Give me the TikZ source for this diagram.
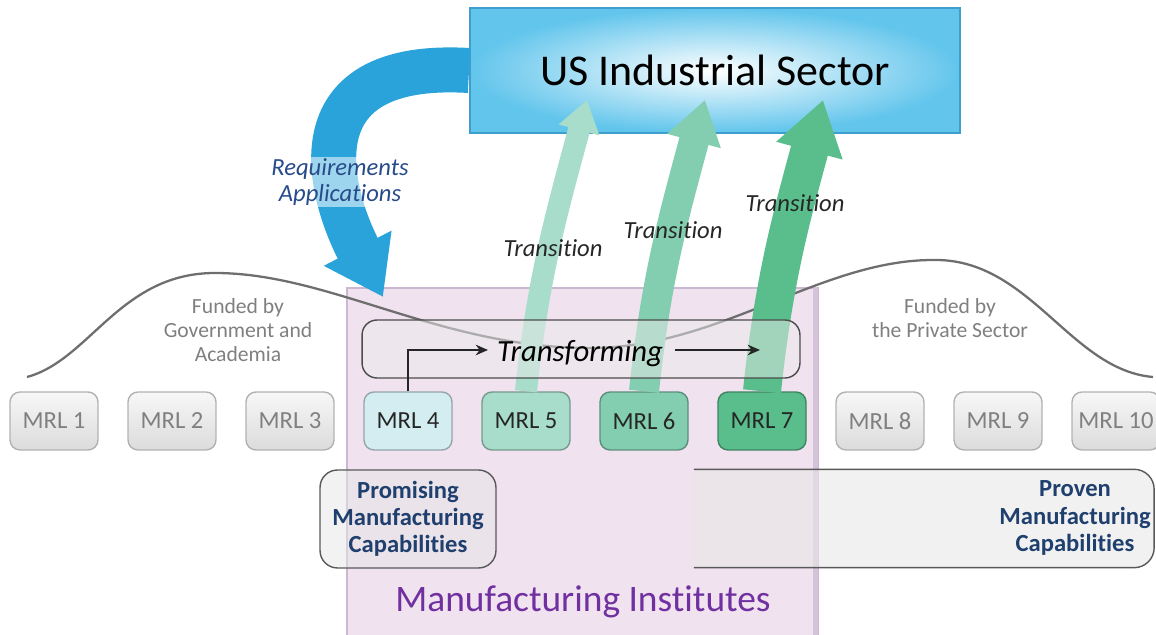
\documentclass[tikz,border=0pt]{standalone}
\usepackage{fontspec}
\setmainfont[Ligatures=NoCommon]{Carlito}
\usetikzlibrary{calc,arrows.meta}
\definecolor{reqblue}{HTML}{29A3DA}
\definecolor{reqtext}{HTML}{284B8A}
\definecolor{usblue}{HTML}{62C5EC}
\definecolor{usedge}{HTML}{3E9FCF}
\definecolor{instpink}{HTML}{F0E2EF}
\definecolor{instedge}{HTML}{CDB8D3}
\definecolor{instpurple}{HTML}{7030A0}
\definecolor{capblue}{HTML}{1F3F6E}
\definecolor{mrlfour}{HTML}{D3EDF1}
\definecolor{mrlfive}{HTML}{A8DCCB}
\definecolor{mrlsix}{HTML}{83CDB0}
\definecolor{mrlseven}{HTML}{5ABD8C}
\definecolor{curvegray}{HTML}{6E6E6E}
\definecolor{fundgray}{HTML}{7F7F7F}

\begin{document}
\begin{tikzpicture}[x=0.02cm,y=0.02cm,thick,
  mrl/.style={rounded corners=0.2cm,minimum width=1.76cm,minimum height=1.16cm,inner sep=0pt,font=\fontsize{14}{16}\selectfont},
  mrlgray/.style={mrl,draw=black!30,top color=black!3,bottom color=black!14,text=black!50},
  mrlcol/.style={mrl,fill=#1,draw=#1!70!black,text=black!85},
  flow/.style={-{Stealth[length=7pt,width=6pt]},line width=1.1pt,black!85},
  capbox/.style={draw=black!65,fill=black!10,fill opacity=0.5,text opacity=1,text=capblue,align=center,font=\fontsize{14}{15.5}\selectfont\bfseries},
  fund/.style={text=fundgray,align=center,font=\fontsize{12.3}{13.5}\selectfont},
  translabel/.style={text=black!85,font=\fontsize{14}{16}\selectfont\itshape}]
\useasboundingbox (0,0) rectangle (1156,635);

\node[draw=instedge,line width=1pt,fill=instpink,minimum width=9.42cm,minimum height=7.04cm] (inst) at (582.5,171) {};
\draw[instedge!85,line width=2.5pt] ([xshift=-2pt]inst.north east) -- ([xshift=-2pt]inst.south east);

\draw[curvegray,line width=1.3pt] (27,258) .. controls (90,275) and (120,362) .. (215,362)
  .. controls (330,362) and (440,287) .. (590,287)
  .. controls (720,287) and (820,375) .. (933,375)
  .. controls (1030,377) and (1070,265) .. (1153,258);

\node[draw=usedge,line width=1.2pt,inner color=white,outer color=usblue,minimum width=9.8cm,minimum height=2.5cm,font=\fontsize{25}{30}\selectfont] (us) at (715,564.5) {US Industrial Sector};

\coordinate (req) at (383,338);
\draw[reqblue,line width=0.9cm,-{Triangle[length=1.1cm,width=1.45cm]}] (us.west) .. controls (290,575) and (330,440) .. (req);

\foreach \i in {1,2,3,8,9,10}
  \node[mrlgray] (m\i) at ({54+118*(\i-1)},214) {MRL \i};
\foreach \i/\c in {4/mrlfour,5/mrlfive,6/mrlsix,7/mrlseven}
  \node[mrlcol=\c] (m\i) at ({54+118*(\i-1)},214) {MRL \i};

\coordinate (t5) at (587,535);
\coordinate (t6) at (705,535);
\coordinate (t7) at (823,535);
\foreach \i/\c/\w/\hl/\hw in {5/mrlfive/0.44cm/0.62cm/0.8cm,6/mrlsix/0.6cm/0.85cm/1.05cm,7/mrlseven/0.76cm/1.05cm/1.3cm}
  \draw[\c,line width=\w,-{Triangle[length=\hl,width=\hw]}] (m\i.north) to[out=84,in=-105] (t\i);

\node[draw=black!70,fill=black!8,fill opacity=0.5,rounded corners=0.3cm,minimum width=8.76cm,minimum height=1.16cm] (trbox) at (581,286) {};
\node[anchor=base,font=\fontsize{17.5}{20}\selectfont\itshape] (trtext) at (580,273) {Transforming};
\coordinate (trin) at (488,285);
\coordinate (trend) at (760,285);
\draw[flow] (m4.north) |- (trin);
\draw[flow] ([xshift=3pt]trtext.east|-trend) -- (trend);

\node[translabel] (tl5) at (553,387) {Transition};
\node[translabel] (tl6) at (673,405) {Transition};
\node[translabel] (tl7) at (795,432) {Transition};

\node[text=reqtext,align=center,fill=white,fill opacity=0.55,text opacity=1,inner sep=1pt,font=\fontsize{14}{15}\selectfont\itshape] (reqtxt) at (340,453) {Requirements\\Applications};

\node[fund] (fundgov) at (238,305) {Funded by\\Government and\\Academia};
\node[fund] (fundpriv) at (950,317) {Funded by\\the Private Sector};

\node[capbox,rounded corners=0.35cm,minimum width=3.52cm,minimum height=1.96cm] (prom) at (408,116) {Promising\\Manufacturing\\Capabilities};
\node[minimum width=9.18cm,minimum height=1.94cm] (prov) at (924,116.5) {};
\filldraw[draw=black!65,fill=black!9,fill opacity=0.6,rounded corners=0.4cm] (prov.north west) -- (prov.north east) -- (prov.south east) -- (prov.south west);
\node[text=capblue,align=center,font=\fontsize{14}{15.5}\selectfont\bfseries] (provtext) at (1075,117) {Proven\\Manufacturing\\Capabilities};

\node[text=instpurple,font=\fontsize{21.3}{24}\selectfont] (insttext) at (583,33) {Manufacturing Institutes};
\end{tikzpicture}
\end{document}
